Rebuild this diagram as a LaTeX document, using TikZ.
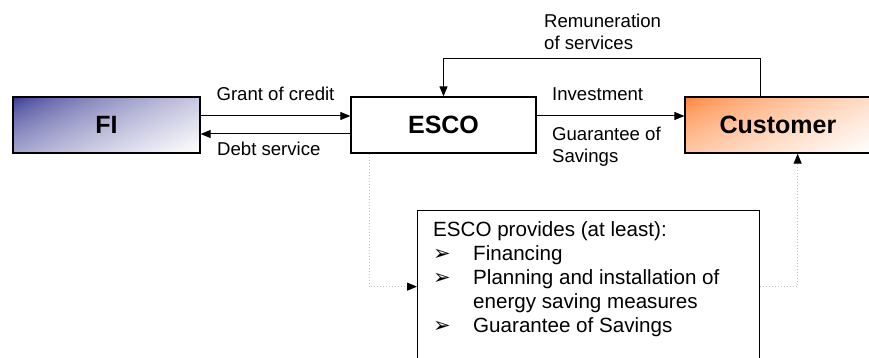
\documentclass[tikz,border=0pt]{standalone}
\usepackage{fontspec}
\setmainfont{Liberation Sans}
\newfontfamily\dingfont{DejaVu Sans}
\usepackage{tikz}
\usetikzlibrary{arrows.meta,calc,positioning}

\definecolor{dotgray}{RGB}{195,195,195}

% corner to corner fades, dark at top left
\pgfdeclarefunctionalshading{fishade}{\pgfpointorigin}{\pgfpoint{100bp}{100bp}}{}{
    75 exch sub 50 div 0.4 mul exch 25 sub 50 div 0.6 mul add
    dup 0 lt {pop 0} if dup 1 gt {pop 1} if 0.6 exp
    dup 0.835 mul 0.165 add exch
    dup 0.835 mul 0.165 add exch
    0.45 mul 0.55 add
}
\pgfdeclarefunctionalshading{custshade}{\pgfpointorigin}{\pgfpoint{100bp}{100bp}}{}{
    75 exch sub 50 div 0.4 mul exch 25 sub 50 div 0.6 mul add
    dup 0 lt {pop 0} if dup 1 gt {pop 1} if 0.6 exp
    1 exch
    dup 0.522 mul 0.478 add exch
    0.843 mul 0.157 add
}

\tikzset{
    party/.style={draw, line width=1.3pt, minimum height=56pt, inner sep=0pt,
        font=\fontsize{25}{30}\selectfont\bfseries},
    lbl/.style={inner sep=0pt, align=left, font=\fontsize{18.6}{21.5}\selectfont},
    flow/.style={line width=1pt, -{Triangle[length=10pt,width=8pt]}},
    aux/.style={line width=1pt, dotgray, dash pattern=on 1pt off 2pt,
        -{Triangle[length=10pt,width=8pt,color=black]}}
}

\newcommand{\bul}{\makebox[40pt][l]{\dingfont\fontsize{21}{24}\selectfont ➢}}

\begin{document}
\begin{tikzpicture}[x=1pt,y=-1pt]
        \useasboundingbox (0,0) rectangle (869,358);
        \clip (0,0) rectangle (869,358);

        % Parties
        \node[party, minimum width=187pt, shade, shading=fishade] (fi) at (106.5,125) {FI};
        \node[party, minimum width=185pt] (esco) at (443.5,125) {ESCO};
        \node[party, minimum width=186pt, shade, shading=custshade] (cust) at (778,125) {Customer};

        % Services box
        \node[draw, line width=1.3pt, minimum width=342pt, minimum height=152pt, anchor=north west] (prov) at (417,210) {};
        \node[anchor=north west, inner sep=0pt, align=left, font=\fontsize{20.6}{24}\selectfont] (provtxt) at (433,221)
            {ESCO provides (at least):\\
             \bul Financing\\
             \bul Planning and installation of\\
             \hspace*{40pt}energy saving measures\\
             \bul Guarantee of Savings};

        % Money and services
        \draw[flow] ([yshift=9pt]fi.east) -- ([yshift=9pt]esco.west)
            node[lbl, midway, above=15pt] (grant) {Grant of credit};
        \draw[flow] ([yshift=-9pt]esco.west) -- ([yshift=-9pt]fi.east)
            node[lbl, pos=1, anchor=north west, shift={(16pt,-8pt)}] (debt) {Debt service};
        \draw[flow] ([yshift=9pt]esco.east) -- ([yshift=9pt]cust.west)
            node[lbl, pos=0, anchor=south west, shift={(15pt,15pt)}] (invest) {Investment}
            node[lbl, pos=0, anchor=north west, shift={(15pt,-11pt)}] (guar) {Guarantee of\\Savings};
        \draw[flow] (cust.north -| prov.east) -- ++(0,-38) -| (esco.north);
        \node[lbl, anchor=north west] (remun) at (544,14) {Remuneration\\of services};

        % Dotted links to the services box
        \draw[aux] ([xshift=19pt]esco.south west) |- (prov.west);
        \draw[aux] (prov.east) -| ([xshift=-74pt]cust.south east);
    \end{tikzpicture}
\end{document}
